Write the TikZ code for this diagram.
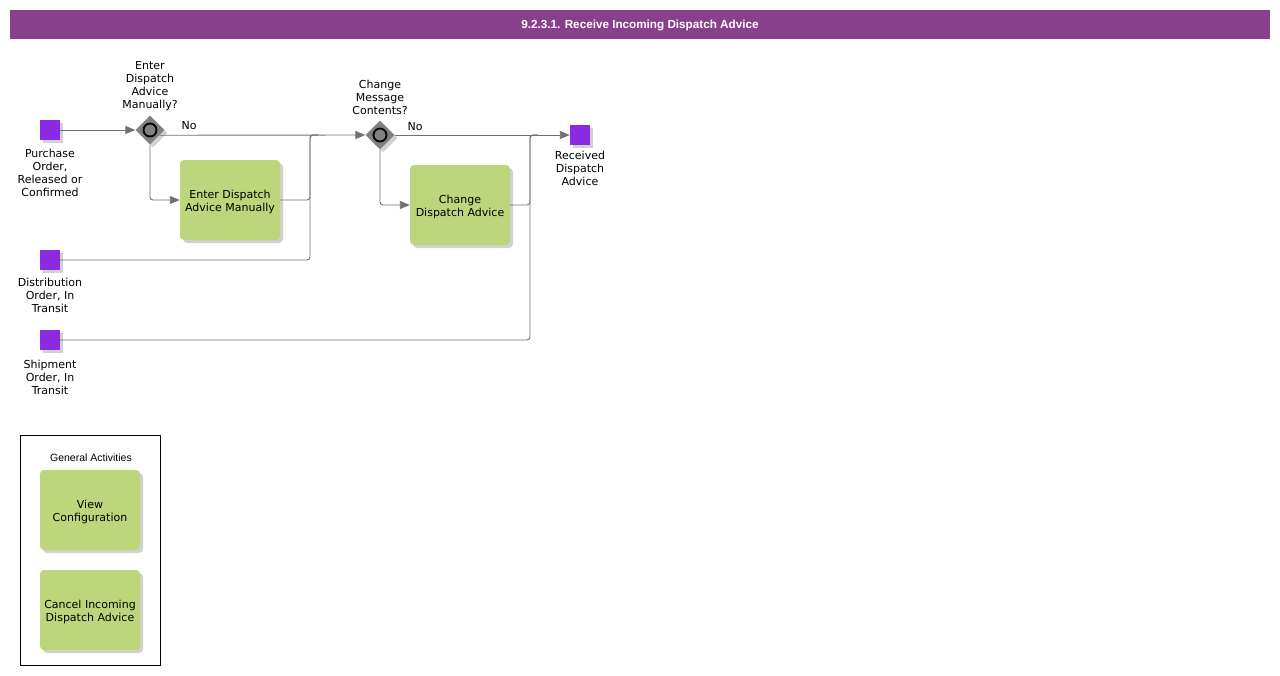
\documentclass[tikz,border=0pt]{standalone}
\usepackage{fontspec}
\setmainfont{DejaVu Sans}
\newfontfamily\arialfont{Liberation Sans}
\usepackage{tikz}
\usetikzlibrary{arrows.meta,positioning,shapes.geometric,shadows,calc}
\definecolor{banner}{RGB}{137, 64, 140}
\definecolor{eventc}{RGB}{138, 43, 226}
\definecolor{taskc}{RGB}{189, 213, 123}
\definecolor{gatec}{RGB}{128, 128, 128}
\definecolor{flowc}{RGB}{112, 112, 112}

\begin{document}
\begin{tikzpicture}[x=1pt, y=-1pt, >={Triangle[length=10pt,width=8pt]},
  every node/.style={font=\fontsize{11}{13}\selectfont, inner sep=0pt},
  shade/.style={drop shadow={shadow xshift=3pt, shadow yshift=-3pt, fill=black!18, opacity=1}},
  event/.style={rectangle, fill=eventc, minimum size=20pt, shade},
  task/.style={rectangle, rounded corners=4pt, fill=taskc, minimum width=100pt, minimum height=80pt, shade},
  gate/.style={diamond, fill=gatec, minimum size=29pt, shade},
  lbl/.style={align=center},
  flow/.style={draw=flowc, line width=0.9pt, rounded corners=3pt}]
  \useasboundingbox (0,0) rectangle (1280,675);
  % Title bar
  \node[fill=banner, minimum width=1260pt, minimum height=29pt] (title) at (640,24.5) {};
  \node[text=white, font=\arialfont\bfseries\fontsize{11.7}{13}\selectfont] (titlelbl) at (640,25.5) {9.2.3.1. Receive Incoming Dispatch Advice};
  % Start events
  \node[event] (po) at (50,130) {};
  \node[lbl, below=9pt of po] (polbl) {Purchase\\Order,\\Released or\\Confirmed};
  \node[event] (dist) at (50,260) {};
  \node[lbl, below=8pt of dist] (distlbl) {Distribution\\Order, In\\Transit};
  \node[event] (ship) at (50,340) {};
  \node[lbl, below=10pt of ship] (shiplbl) {Shipment\\Order, In\\Transit};
  % Gateways
  \node[gate] (gw1) at (150,130) {};
  \draw[black, line width=1.8pt, fill=gatec] (gw1.center) circle (6.5pt);
  \node[lbl, above=4pt of gw1] (gw1lbl) {Enter\\Dispatch\\Advice\\Manually?};
  \node (no1) at (189,126) {No};
  \node[gate] (gw2) at (380,135) {};
  \draw[black, line width=1.8pt, fill=gatec] (gw2.center) circle (6.5pt);
  \node[lbl, above=5pt of gw2] (gw2lbl) {Change\\Message\\Contents?};
  \node (no2) at (415,127) {No};
  % Tasks
  \node[task] (t1) at (230,200) {};
  \node[lbl] (t1lbl) at ($(t1)+(0,2)$) {Enter Dispatch\\Advice Manually};
  \node[task] (t2) at (460,205) {};
  \node[lbl] (t2lbl) at ($(t2)+(0,2)$) {Change\\Dispatch Advice};
  % End event
  \node[event] (done) at (580,135) {};
  \node[lbl, below=6pt of done] (donelbl) {Received\\Dispatch\\Advice};
  % Merge points
  \coordinate (m1) at (310,135);
  \coordinate (m1r) at (318,135);
  \coordinate (m2) at (530,135);
  \coordinate (m2r) at (538,135);
  % Flows
  \draw[flow, ->] (po.east) -- (gw1.west);
  \draw[flow, ->] (gw1.-29) -- (gw2.west);
  \draw[flow, ->] (gw1.south) |- (t1.west);
  \draw[flow] (t1.east) -| (m1) -- (m1r);
  \draw[flow] (dist.east) -| (m1) -- (m1r);
  \draw[flow, ->] (gw2.east) -- (done.west);
  \draw[flow, ->] (gw2.south) |- (t2.west);
  \draw[flow] (t2.east) -| (m2) -- (m2r);
  \draw[flow] (ship.east) -| (m2) -- (m2r);
  % General activities
  \node[draw=black, line width=0.8pt, minimum width=140pt, minimum height=230pt] (gen) at (90,550) {};
  \node[font=\arialfont\fontsize{10.5}{13}\selectfont] (genlbl) at (91,458) {General Activities};
  \node[task] (view) at (90,510) {};
  \node[lbl] (viewlbl) at ($(view)+(0,2)$) {View\\Configuration};
  \node[task] (cancel) at (90,610) {};
  \node[lbl] (cancellbl) at ($(cancel)+(0,2)$) {Cancel Incoming\\Dispatch Advice};
\end{tikzpicture}
\end{document}
